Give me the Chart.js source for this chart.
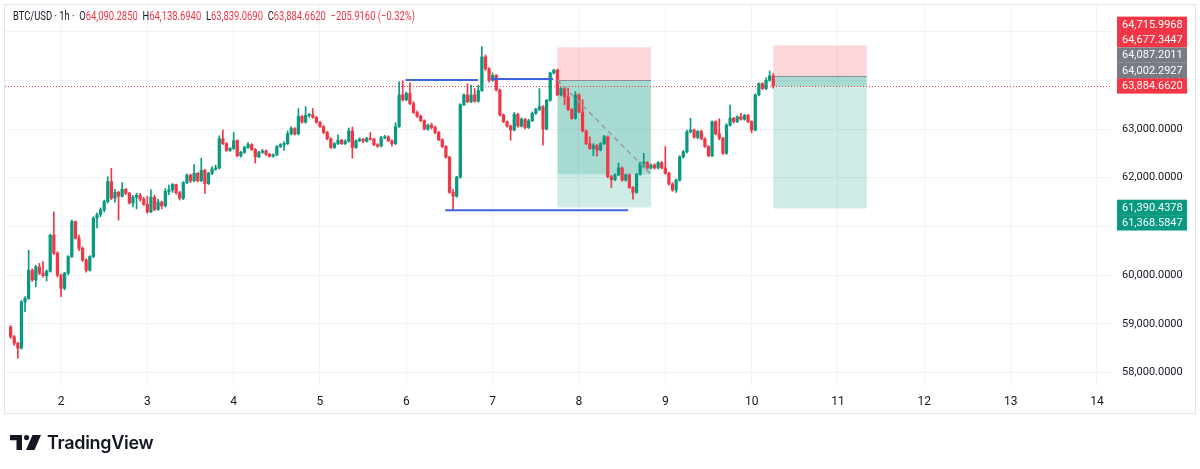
<!DOCTYPE html>
<html>
<head>
<meta charset="utf-8">
<script src="https://cdn.jsdelivr.net/npm/chart.js@4.4.1/dist/chart.umd.min.js"></script>
<style>
	html, body { margin: 0; padding: 0; background: #fff; }
	#wrap { position: relative; width: 1200px; height: 469px; overflow: hidden; }
	#c { position: absolute; left: 0; top: 0; }
	#legend { position: absolute; left: 13px; top: 9px; font: 12px Roboto, sans-serif; color: #131722; white-space: nowrap;
		transform: scaleX(0.785); transform-origin: 0 50%; }
	#legend .v { color: #f23645; }
	#legend .g { margin-left: 6px; }
	#logo { position: absolute; left: 10px; top: 432px; display: flex; align-items: center; }
	#logo span { font: 600 18px Inter, sans-serif; color: #131722; margin-left: 6px; letter-spacing: -0.3px; }
</style>
</head>
<body>
<div id="wrap">
	<canvas id="c" width="1200" height="469"></canvas>
	<div id="legend"><span>BTC/USD · 1h ·</span><span class="g">O</span><span class="v">64,090.2850</span><span class="g">H</span><span class="v">64,138.6940</span><span class="g">L</span><span class="v">63,839.0690</span><span class="g">C</span><span class="v">63,884.6620</span><span class="g v">−205.9160 (−0.32%)</span></div>
	<div id="logo">
		<svg width="31" height="15" viewBox="0 0 31 15">
			<path d="M0 0H12V15H6.5V5.2H0Z" fill="#131722"/>
			<circle cx="16.6" cy="2.6" r="2.6" fill="#131722"/>
			<path d="M22.5 0H31L24.5 15H16Z" fill="#131722"/>
		</svg>
		<span>TradingView</span>
	</div>
</div>
<script>
// BTC/USD 1h candles, first bar = day 1 10:00
const opens = [
	58930,58735,58600,58500,59450,59520,60100,59900,60170,60040,
	59990,60080,60820,60450,60000,59730,60040,60380,61100,60760,
	60550,60310,60100,60380,61170,61240,61340,61510,61920,61580,
	61700,61620,61760,61680,61480,61600,61640,61560,61450,61300,
	61600,61350,61500,61420,61720,61750,61860,61690,61580,61900,
	62050,61940,62090,61940,62150,61880,62090,62180,62200,62800,
	62700,62560,62600,62760,62450,62520,62620,62680,62580,62430,
	62520,62550,62480,62440,62470,62640,62680,62700,62900,63010,
	62900,63260,63140,63280,63290,63240,63140,63050,62930,62800,
	62620,62700,62770,62700,62750,62960,62620,62760,62790,62750,
	62810,62790,62680,62650,62820,62840,62760,62700,63050,63700,
	63600,63730,63520,63340,63260,63170,63000,63080,63030,62930,
	62780,62640,62420,61700,61620,62010,63500,63700,63560,63700,
	63570,63790,64480,64240,64000,64100,63800,63290,63150,63060,
	62980,63300,63060,63200,63030,63170,63320,63400,63460,63000,
	63590,64150,64210,63700,63830,63660,63400,63220,63700,63350,
	62960,62700,62600,62660,62570,62700,62840,62020,61960,62060,
	62200,61950,62060,61800,61700,62070,62300,62310,62200,62260,
	62200,62310,62200,62090,61870,61750,61950,62430,62530,62940,
	62980,62830,62950,62800,62640,62450,63150,62900,62810,62500,
	63080,63220,63150,63250,63200,63280,63150,62980,63700,63930,
	63830,64000,64090.2850
];
const highs = [
	58970,58760,58620,59480,59560,60510,60130,60200,60240,60280,
	60110,60840,61300,60480,60020,60060,60400,61130,61110,60820,
	60580,60340,60400,61200,61280,61380,61540,62020,62190,61760,
	61720,61900,61780,61700,61640,61680,61680,61600,61620,61750,
	61640,61560,61520,61780,61850,61880,61870,61720,61920,62080,
	62080,62270,62110,62400,62170,62110,62230,62260,62860,62980,
	62720,62620,62930,62780,62540,62650,62720,62700,62600,62540,
	62580,62570,62500,62490,62660,62700,62740,62960,63050,63030,
	63420,63280,63460,63320,63420,63260,63160,63070,62950,62820,
	62720,62880,62790,62780,63020,63040,62780,62820,62810,62830,
	62930,62810,62700,62850,62870,62860,62780,63130,63970,63990,
	63760,63950,63560,63370,63290,63190,63100,63120,63060,62950,
	62800,62660,62440,61760,62030,63520,63720,63930,63900,63830,
	63900,64690,64520,64260,64150,64120,63820,63310,63170,63080,
	63340,63320,63230,63220,63200,63350,63430,63830,63480,63610,
	64170,64225,64230,63850,63850,63840,63420,63770,63720,63600,
	62980,62840,62700,62680,62720,62870,62860,62050,62080,62300,
	62220,62080,62080,61820,62090,62320,62500,62330,62280,62290,
	62330,62330,62640,62110,61900,61970,62450,62560,62980,63220,
	63000,62970,62980,62820,62660,63170,63170,63210,62830,63110,
	63490,63240,63270,63320,63300,63300,63170,63720,63950,63950,
	64050,64190,64138.6940
];
const lows = [
	58700,58560,58290,58480,59250,59500,59870,59760,60010,59960,
	59880,60060,60420,59960,59560,59700,60000,60360,60740,60500,
	60280,60060,60080,60360,60970,61200,61300,61480,61550,61500,
	61130,61600,61650,61460,61400,61360,61520,61430,61270,61280,
	61320,61330,61360,61400,61650,61700,61660,61540,61550,61880,
	61900,61920,61910,61920,61680,61860,62060,62150,62180,62680,
	62540,62540,62580,62430,62420,62500,62600,62560,62300,62410,
	62500,62460,62420,62420,62450,62620,62560,62680,62880,62880,
	62880,63120,63120,63240,63220,63120,63030,62900,62780,62600,
	62600,62680,62680,62680,62730,62400,62600,62740,62720,62730,
	62770,62660,62620,62630,62800,62740,62650,62680,63030,63570,
	63580,63500,63320,63240,63150,62980,62970,63000,62900,62760,
	62620,62400,61680,61340,61600,61990,63480,63540,63540,63550,
	63550,63770,64200,63960,63980,63780,63270,63130,63040,62770,
	62960,63040,63040,63000,63010,63150,63300,63380,62670,62980,
	63570,64130,63680,63680,63500,63380,63200,63200,63330,62940,
	62680,62580,62450,62440,62550,62680,62000,61800,61940,62040,
	61930,61930,61780,61560,61680,62050,62200,62180,62180,62180,
	62180,62180,62070,61850,61720,61700,61930,62400,62510,62920,
	62810,62800,62780,62620,62430,62430,62880,62780,62480,62480,
	63060,63120,63130,63180,63180,63130,62920,62960,63680,63810,
	63810,63980,63839.0690
];
const closes = [
	58735,58600,58500,59450,59520,60100,59900,60170,60040,59990,
	60080,60820,60450,60000,59730,60040,60380,61100,60760,60550,
	60310,60100,60380,61170,61240,61340,61510,61920,61580,61700,
	61620,61760,61680,61480,61600,61640,61560,61450,61300,61600,
	61350,61500,61420,61720,61750,61860,61690,61580,61900,62050,
	61940,62090,61940,62150,61880,62090,62180,62200,62800,62700,
	62560,62600,62760,62450,62520,62620,62680,62580,62430,62520,
	62550,62480,62440,62470,62640,62680,62700,62900,63010,62900,
	63260,63140,63280,63290,63240,63140,63050,62930,62800,62620,
	62700,62770,62700,62750,62960,62620,62760,62790,62750,62810,
	62790,62680,62650,62820,62840,62760,62700,63050,63700,63600,
	63730,63520,63340,63260,63170,63000,63080,63030,62930,62780,
	62640,62420,61700,61620,62010,63500,63700,63560,63700,63570,
	63790,64480,64240,64000,64100,63800,63290,63150,63060,62980,
	63300,63060,63200,63030,63170,63320,63400,63460,63000,63590,
	64150,64210,63700,63830,63660,63400,63220,63700,63350,62960,
	62700,62600,62660,62570,62700,62840,62020,61960,62060,62200,
	61950,62060,61800,61700,62070,62300,62310,62200,62260,62200,
	62310,62200,62090,61870,61750,61950,62430,62530,62940,62980,
	62830,62950,62800,62640,62450,63150,62900,62810,62500,63080,
	63220,63150,63250,63200,63280,63150,62980,63700,63930,63830,
	64000,64090,63884.6620
];

// axis ticks
const dayTicks = [2, 3, 4, 5, 6, 7, 8, 9, 10, 11, 12, 13, 14];
const priceTicks = [58000, 59000, 60000, 61000, 62000, 63000, 64000, 65000];

// short position tools
const toolStart = [7.75, 10.25];
const toolEnd = [8.8333, 11.3333];
const toolStop = [64677.3447, 64715.9968];
const toolEntry = [64002.2927, 64087.2011];
const toolTarget = [61390.4378, 61368.5847];
const toolReached = [62070, 63884.6620];

// horizontal blue levels
const levelFrom = [5.99, 6.98, 6.45];
const levelTo = [6.83, 7.70, 8.57];
const levelPrice = [64006, 64026, 61331];

const lastPrice = 63884.6620;
const tagValues = [64715.9968, 64677.3447, 64087.2011, 64002.2927, 63884.6620, 61390.4378, 61368.5847];
const tagColors = ['#f23645', '#f23645', '#787b86', '#787b86', '#f23645', '#089981', '#089981'];

(function(){
	const UP = '#089981', DOWN = '#f23645';
	const firstBar = 1 + 10 / 24;
	const times = opens.map((_, i) => firstBar + i / 24);
	const colors = closes.map((c, i) => c >= opens[i] ? UP : DOWN);
	const fmt = (v) => v.toLocaleString('en-US', { minimumFractionDigits: 4, maximumFractionDigits: 4 });

	Chart.defaults.font.family = 'Roboto, sans-serif';
	Chart.defaults.color = '#131722';

	const lineDs = (pts, color, width, dash) => ({
		type: 'line', data: pts, borderColor: color, borderWidth: width, borderDash: dash || [],
		pointRadius: 0, fill: false, tension: 0, order: 0
	});

	const datasets = [
		{ label: 'wick', data: times.map((t, i) => ({ x: t, y: [lows[i], highs[i]] })), backgroundColor: colors,
			barThickness: 1, maxBarThickness: 1, grouped: false, order: 2 },
		{ label: 'body', data: times.map((t, i) => ({ x: t, y: [opens[i], closes[i]] })), backgroundColor: colors,
			barThickness: 2.6, maxBarThickness: 2.6, minBarLength: 1, grouped: false, order: 1 }
	];
	levelPrice.forEach((p, k) => {
		datasets.push(lineDs([{ x: levelFrom[k], y: p }, { x: levelTo[k], y: p }], '#3d63dd', 2));
	});
	datasets.push(lineDs([{ x: toolStart[0], y: toolEntry[0] }, { x: toolEnd[0], y: toolReached[0] }], '#9598a1', 1.5, [5, 4]));

	function placeTags(y){
		const h = 15.4;
		const items = tagValues.map((v, i) => ({ v, c: tagColors[i], y: y.getPixelForValue(v) }));
		items.sort((a, b) => a.y - b.y);
		const k = items.findIndex(t => t.v === lastPrice);
		for(let i = k - 1; i >= 0; i--) items[i].y = Math.min(items[i].y, items[i + 1].y - h);
		for(let i = k + 1; i < items.length; i++) items[i].y = Math.max(items[i].y, items[i - 1].y + h);
		return { items, h };
	}

	const overlay = {
		id: 'overlay',
		beforeDatasetsDraw(chart){
			const { ctx, chartArea: a, scales: { x, y } } = chart;
			ctx.save();
			ctx.beginPath(); ctx.rect(a.left, a.top, a.right - a.left, a.bottom - a.top); ctx.clip();
			toolStart.forEach((s, k) => {
				const x0 = x.getPixelForValue(s), x1 = x.getPixelForValue(toolEnd[k]);
				const ys = y.getPixelForValue(toolStop[k]), ye = y.getPixelForValue(toolEntry[k]);
				const yt = y.getPixelForValue(toolTarget[k]), yr = y.getPixelForValue(toolReached[k]);
				ctx.fillStyle = 'rgba(242,54,69,0.2)';
				ctx.fillRect(x0, ys, x1 - x0, ye - ys);
				ctx.fillStyle = 'rgba(8,153,129,0.2)';
				ctx.fillRect(x0, ye, x1 - x0, yt - ye);
				ctx.fillRect(x0, ye, x1 - x0, yr - ye);
				ctx.strokeStyle = '#8a8d96'; ctx.lineWidth = 1;
				ctx.beginPath(); ctx.moveTo(x0, Math.round(ye) + 0.5); ctx.lineTo(x1, Math.round(ye) + 0.5); ctx.stroke();
			});
			const yl = Math.round(y.getPixelForValue(lastPrice)) + 0.5;
			ctx.strokeStyle = '#f23645'; ctx.lineWidth = 1; ctx.setLineDash([1, 2]);
			ctx.beginPath(); ctx.moveTo(a.left, yl); ctx.lineTo(a.right, yl); ctx.stroke();
			ctx.restore();
		},
		afterDraw(chart){
			const { ctx, chartArea: a, scales: { y } } = chart;
			ctx.save();
			const { items, h } = placeTags(y);
			ctx.font = '11px Roboto, sans-serif';
			ctx.textBaseline = 'middle';
			items.forEach(t => {
				ctx.fillStyle = t.c;
				ctx.fillRect(a.right + 5, t.y - h / 2, 70, h);
				ctx.fillStyle = '#fff';
				ctx.fillText(fmt(t.v), a.right + 10, t.y + 0.5);
			});
			ctx.strokeStyle = '#e0e3eb'; ctx.lineWidth = 1;
			ctx.strokeRect(4.5, 4.5, 1191, 409);
			ctx.restore();
		}
	};

	new Chart(document.getElementById('c'), {
		type: 'bar',
		data: { datasets },
		plugins: [overlay],
		options: {
			responsive: false, animation: false,
			layout: { padding: { left: 5, top: 5, right: 5, bottom: 56 } },
			plugins: { legend: { display: false }, tooltip: { enabled: false } },
			scales: {
				x: {
					type: 'linear', min: 1.3513, max: 14.174, offset: false,
					grid: { color: '#f1f2f4', drawTicks: false, offset: false },
					border: { display: false },
					afterBuildTicks: (s) => { s.ticks = dayTicks.map(v => ({ value: v })); },
					ticks: { autoSkip: false, maxRotation: 0, padding: 10, font: { size: 12 }, callback: (v) => String(v) },
					afterFit: (s) => { s.height = 28; s.paddingLeft = 0; s.paddingRight = 0; }
				},
				y: {
					position: 'right', min: 57744, max: 65546, beginAtZero: false,
					grid: { color: '#f1f2f4', drawTicks: false },
					border: { display: false },
					afterBuildTicks: (s) => { s.ticks = priceTicks.map(v => ({ value: v })); },
					ticks: { autoSkip: false, padding: 10, font: { size: 11 }, callback: (v) => fmt(v) },
					afterFit: (s) => { s.width = 83; s.paddingTop = 0; s.paddingBottom = 0; }
				}
			}
		}
	});
})();
</script>
</body>
</html>
